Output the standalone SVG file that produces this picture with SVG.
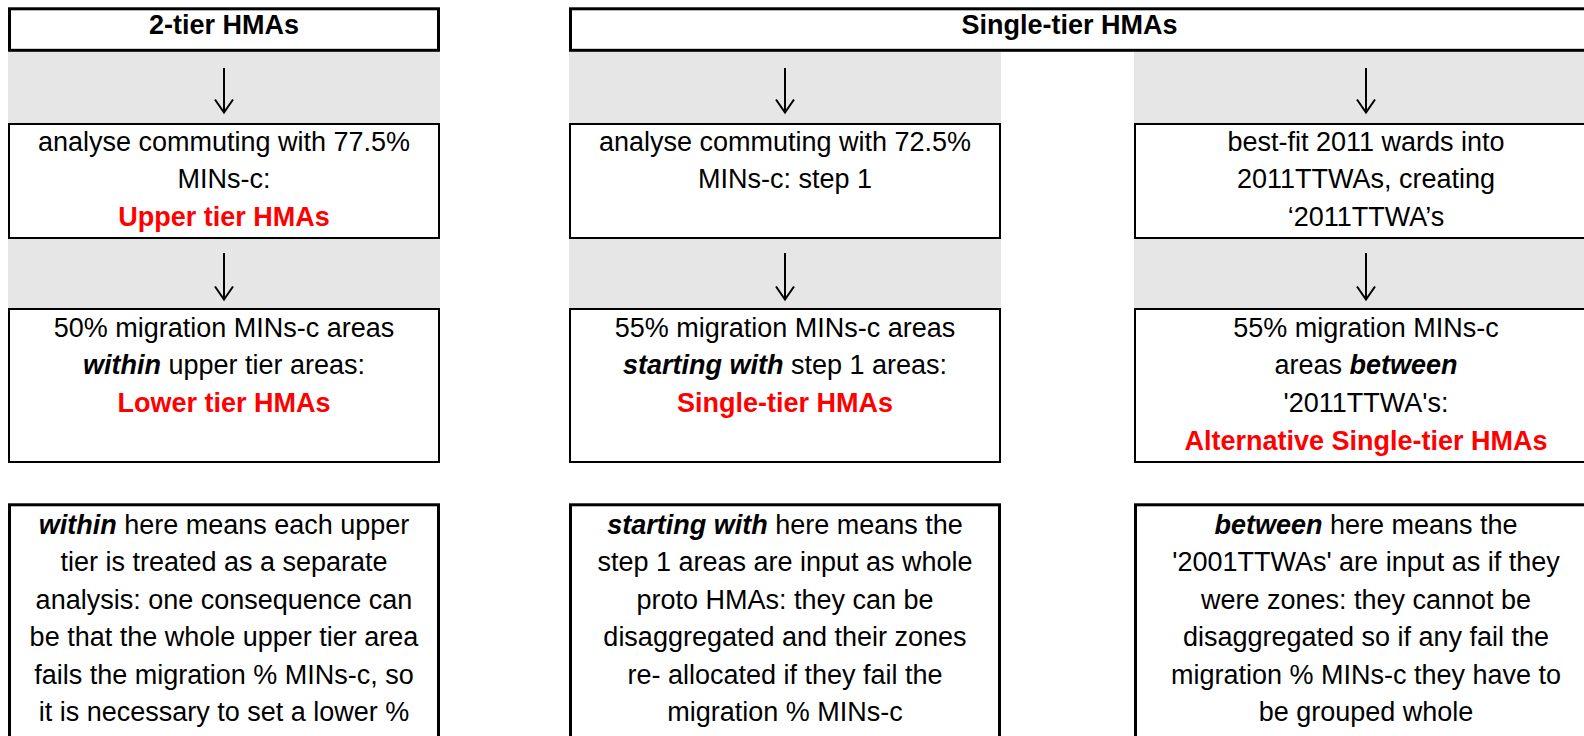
<svg xmlns="http://www.w3.org/2000/svg" width="1584" height="736" viewBox="0 0 1584 736">
<style>
text{font-family:"Liberation Sans",Arial,sans-serif;font-size:27px;fill:#000;text-anchor:middle}
.hd{font-weight:bold}
.red{fill:#FF0000;font-weight:bold}
.bi{font-weight:bold;font-style:italic}
.band{fill:#E6E6E6;stroke:none}
.thick{fill:#fff;stroke:#000;stroke-width:3}
.box{fill:#fff;stroke:#000;stroke-width:2}
.arrow{fill:none;stroke:#000;stroke-width:2;marker-end:url(#chev)}
</style>
<defs>
<marker id="chev" markerUnits="userSpaceOnUse" viewBox="-15 -10 17 20" markerWidth="17" markerHeight="20" refX="0" refY="0" orient="auto" overflow="visible">
<path d="M-13,-9 L0,0 L-13,9" fill="none" stroke="#000" stroke-width="2"/>
</marker>
</defs>
<rect width="1584" height="736" fill="#fff"/>
<g id="bands">
<rect class="band" x="8" y="52" width="432" height="71"/>
<rect class="band" x="8" y="239" width="432" height="69"/>
<rect class="band" x="569" y="52" width="432" height="71"/>
<rect class="band" x="569" y="239" width="432" height="69"/>
<rect class="band" x="1134" y="52" width="470" height="71"/>
<rect class="band" x="1134" y="239" width="470" height="69"/>
</g>
<g id="header-2tier">
<rect class="thick" x="9.5" y="8.8" width="429" height="41.5"/>
<text class="hd" x="224" y="34.3">2-tier HMAs</text>
</g>
<g id="header-single">
<rect class="thick" x="570.5" y="8.8" width="1040" height="41.5"/>
<text class="hd" x="1069.5" y="34.3">Single-tier HMAs</text>
</g>
<g id="upper-tier">
<rect class="box" x="9" y="124" width="430" height="114"/>
<text x="224" y="150.7">analyse commuting with 77.5%</text>
<text x="224" y="188.3">MINs-c:</text>
<text class="red" x="224" y="225.8">Upper tier HMAs</text>
</g>
<g id="step1">
<rect class="box" x="570" y="124" width="430" height="114"/>
<text x="785" y="150.7">analyse commuting with 72.5%</text>
<text x="785" y="188.3">MINs-c: step 1</text>
</g>
<g id="bestfit">
<rect class="box" x="1135" y="124" width="470" height="114"/>
<text x="1366" y="150.7">best-fit 2011 wards into</text>
<text x="1366" y="188.3">2011TTWAs, creating</text>
<text x="1366" y="225.8">‘2011TTWA’s</text>
</g>
<g id="lower-tier">
<rect class="box" x="9" y="309" width="430" height="153"/>
<text x="224" y="336.7">50% migration MINs-c areas</text>
<text x="224" y="374.3"><tspan class="bi">within</tspan> upper tier areas:</text>
<text class="red" x="224" y="412">Lower tier HMAs</text>
</g>
<g id="single-tier">
<rect class="box" x="570" y="309" width="430" height="153"/>
<text x="785" y="336.7">55% migration MINs-c areas</text>
<text x="785" y="374.3"><tspan class="bi">starting with</tspan> step 1 areas:</text>
<text class="red" x="785" y="412">Single-tier HMAs</text>
</g>
<g id="alt-single-tier">
<rect class="box" x="1135" y="309" width="470" height="153"/>
<text x="1366" y="336.7">55% migration MINs-c</text>
<text x="1366" y="374.3">areas <tspan class="bi">between</tspan></text>
<text x="1366" y="412">'2011TTWA's:</text>
<text class="red" x="1366" y="449.7">Alternative Single-tier HMAs</text>
</g>
<g id="note-within">
<rect class="thick" x="9.5" y="504.8" width="429" height="300"/>
<text x="224" y="534"><tspan class="bi">within</tspan> here means each upper</text>
<text x="224" y="571.4">tier is treated as a separate</text>
<text x="224" y="608.8">analysis: one consequence can</text>
<text x="224" y="646.2">be that the whole upper tier area</text>
<text x="224" y="683.6">fails the migration % MINs-c, so</text>
<text x="224" y="721">it is necessary to set a lower %</text>
</g>
<g id="note-starting">
<rect class="thick" x="570.5" y="504.8" width="429" height="300"/>
<text x="785" y="534"><tspan class="bi">starting with</tspan> here means the</text>
<text x="785" y="571.4">step 1 areas are input as whole</text>
<text x="785" y="608.8">proto HMAs: they can be</text>
<text x="785" y="646.2">disaggregated and their zones</text>
<text x="785" y="683.6">re- allocated if they fail the</text>
<text x="785" y="721">migration % MINs-c</text>
</g>
<g id="note-between">
<rect class="thick" x="1135.5" y="504.8" width="470" height="300"/>
<text x="1366" y="534"><tspan class="bi">between</tspan> here means the</text>
<text x="1366" y="571.4">'2001TTWAs' are input as if they</text>
<text x="1366" y="608.8">were zones: they cannot be</text>
<text x="1366" y="646.2">disaggregated so if any fail the</text>
<text x="1366" y="683.6">migration % MINs-c they have to</text>
<text x="1366" y="721">be grouped whole</text>
</g>
<g id="connectors">
<path class="arrow" d="M224,68 L224,112.5"/>
<path class="arrow" d="M224,253 L224,299.5"/>
<path class="arrow" d="M785,68 L785,112.5"/>
<path class="arrow" d="M785,253 L785,299.5"/>
<path class="arrow" d="M1366,68 L1366,112.5"/>
<path class="arrow" d="M1366,253 L1366,299.5"/>
</g>
</svg>
